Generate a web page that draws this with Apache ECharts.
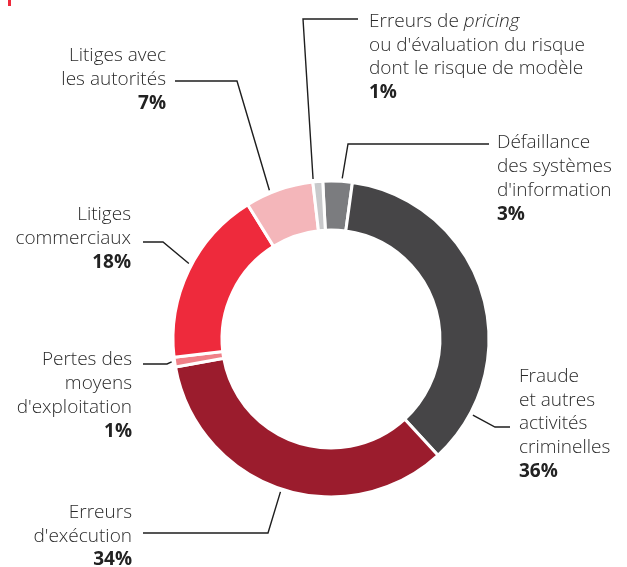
<!DOCTYPE html>
<html>
<head>
<meta charset="utf-8">
<style>
html,body{margin:0;padding:0;background:#fff;}
#chart{width:627px;height:567px;}
</style>
<script src="https://cdn.jsdelivr.net/npm/echarts@6/dist/echarts.min.js"></script>
</head>
<body>
<div id="chart"></div>
<script>
// ---- data ----
const categories = [
  "Défaillance des systèmes d'information",
  "Fraude et autres activités criminelles",
  "Erreurs d'exécution",
  "Pertes des moyens d'exploitation",
  "Litiges commerciaux",
  "Litiges avec les autorités",
  "Erreurs de pricing ou d'évaluation du risque dont le risque de modèle"
];
const values = [3, 36, 34, 1, 18, 7, 1];
const percentLabels = ['3%', '36%', '34%', '1%', '18%', '7%', '1%'];
const labelTextLines = [
  ["Défaillance", "des systèmes", "d'information"],
  ["Fraude", "et autres", "activités", "criminelles"],
  ["Erreurs", "d'exécution"],
  ["Pertes des", "moyens", "d'exploitation"],
  ["Litiges", "commerciaux"],
  ["Litiges avec", "les autorités"],
  ["Erreurs de {i|pricing}", "ou d'évaluation du risque", "dont le risque de modèle"]
];
const colors = ['#7b7c7f', '#464547', '#9b1c2d', '#f08088', '#ee2a3c', '#f4b6ba', '#c8c9cb'];

// ---- layout (label placement) ----
const LH = 23.7;
const labelPlaces = [
  {x: 497, y: 143, align: 'left',  angle: 86, elbow: [348, 144], end: [489, 144]},
  {x: 519, y: 376.5, align: 'left', angle: -28.2, elbow: [495, 427], end: [510, 427]},
  {x: 132, y: 512.5, align: 'right', angle: -108.3, elbow: [268, 533], end: [143, 533]},
  {x: 132, y: 360, align: 'right', angle: 188.2, elbow: [167, 364], end: [143, 364]},
  {x: 131, y: 215, align: 'right', angle: 152, elbow: [163, 242], end: [143, 242]},
  {x: 166, y: 56, align: 'right', angle: 112.5, elbow: [237, 81], end: [175, 81]},
  {x: 369, y: 21.5, align: 'left', angle: 96.4, elbow: [303, 19], end: [358, 19]}
];
const CENTER = [331, 339];
const RADII = [109, 158];
const START = 93;

const FONT = '"Open Sans", "Liberation Sans", Arial, sans-serif';

function startPoint(i) {
  const rad = labelPlaces[i].angle * Math.PI / 180;
  const r = RADII[1] + 3;
  return [CENTER[0] + r * Math.cos(rad), CENTER[1] - r * Math.sin(rad)];
}

const data = categories.map((name, i) => {
  const sfx = labelPlaces[i].align === 'right' ? 'r' : '';
  const lines = labelTextLines[i].map(t => {
    if (t.indexOf('{i|') >= 0) {
      const parts = t.split('{i|');
      return '{n' + sfx + '|' + parts[0] + '}{i' + sfx + '|' + parts[1];
    }
    return '{n' + sfx + '|' + t + '}';
  });
  lines.push('{b' + sfx + '|' + percentLabels[i] + '}');
  return {
    name: name,
    value: values[i],
    itemStyle: {color: colors[i]},
    label: {formatter: lines.join('\n')}
  };
});

const baseN = {fontSize: 19, lineHeight: LH, color: '#2b2b2b', fontFamily: FONT, fontWeight: 300};
const rich = {
  n: Object.assign({}, baseN, {align: 'left'}),
  i: Object.assign({}, baseN, {align: 'left', fontStyle: 'italic'}),
  b: Object.assign({}, baseN, {align: 'left', fontWeight: 'bold', color: '#222'}),
  nr: Object.assign({}, baseN, {align: 'right'}),
  ir: Object.assign({}, baseN, {align: 'right', fontStyle: 'italic'}),
  br: Object.assign({}, baseN, {align: 'right', fontWeight: 'bold', color: '#222'})
};

const chart = echarts.init(document.getElementById('chart'), null, {renderer: 'canvas'});
chart.setOption({
  backgroundColor: '#fff',
  animation: false,
  graphic: [{
    type: 'rect',
    shape: {x: 8, y: 0, width: 3, height: 6},
    style: {fill: '#ee2a3c'}
  }],
  series: [{
    type: 'pie',
    center: CENTER,
    radius: RADII,
    startAngle: START,
    clockwise: true,
    avoidLabelOverlap: false,
    itemStyle: {borderColor: '#fff', borderWidth: 3},
    emphasis: {disabled: true},
    label: {
      show: true,
      position: 'outside',
      rich: rich,
      fontFamily: FONT
    },
    labelLine: {
      show: true,
      length: 10,
      length2: 10,
      lineStyle: {color: '#1e1e1e', width: 1.4}
    },
    labelLayout: function (params) {
      const p = labelPlaces[params.dataIndex];
      return {
        x: p.x,
        y: p.y - LH / 2,
        align: p.align,
        verticalAlign: 'top',
        labelLinePoints: [startPoint(params.dataIndex), p.elbow, p.end]
      };
    },
    data: data
  }]
});
</script>
</body>
</html>
